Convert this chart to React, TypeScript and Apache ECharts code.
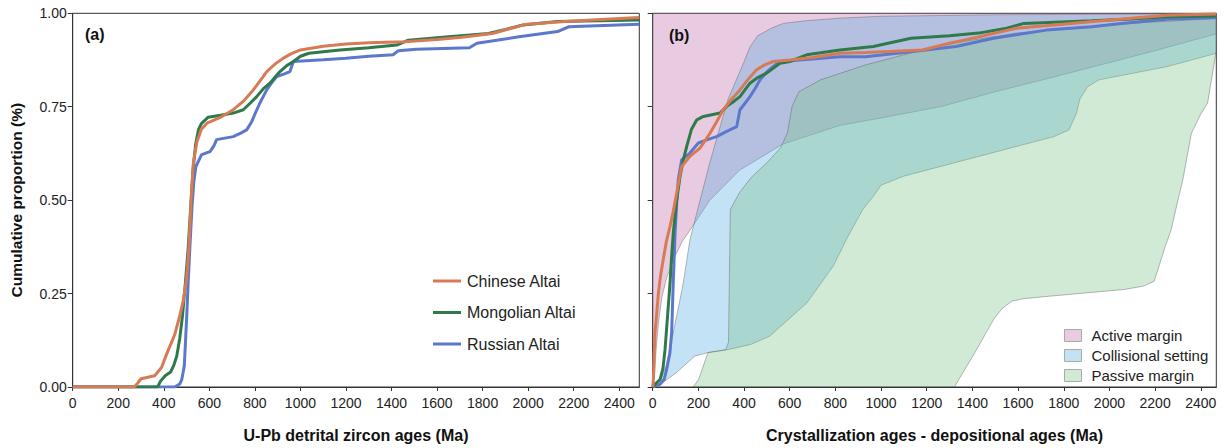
import React, { useEffect, useRef } from "react";
import * as echarts from "echarts";

// ---- shared axis values ----
const xTickValues = [0, 200, 400, 600, 800, 1000, 1200, 1400, 1600, 1800, 2000, 2200, 2400];
const yTickValues = [0, 0.25, 0.5, 0.75, 1];
const leftXMax = 2488;
const rightXMax = 2468;

const regionNames = ["Chinese Altai", "Mongolian Altai", "Russian Altai"];
const regionColors = ["#d77b56", "#2f7a4b", "#5c78cb"];

// ---- (a) cumulative proportion of U-Pb detrital zircon ages ----
const chineseAges: number[][] = [
  [0, 0], [270, 0], [285, 0.01], [300, 0.022], [360, 0.03], [390, 0.052], [415, 0.092],
  [448, 0.14], [470, 0.19], [485, 0.23], [500, 0.29], [510, 0.37], [520, 0.5], [530, 0.6],
  [545, 0.655], [565, 0.69], [590, 0.706], [650, 0.722], [705, 0.742], [750, 0.765],
  [793, 0.795], [830, 0.825], [852, 0.844], [890, 0.865], [925, 0.88], [960, 0.892],
  [1000, 0.902], [1100, 0.912], [1200, 0.918], [1300, 0.921], [1456, 0.924], [1600, 0.93],
  [1709, 0.936], [1843, 0.946], [1927, 0.96], [1995, 0.971], [2163, 0.978], [2300, 0.983],
  [2488, 0.989],
];
const mongolianAges: number[][] = [
  [0, 0], [373, 0], [385, 0.015], [406, 0.03], [430, 0.04], [445, 0.06], [457, 0.083],
  [470, 0.13], [482, 0.19], [495, 0.28], [507, 0.37], [518, 0.48], [528, 0.58], [540, 0.65],
  [553, 0.69], [565, 0.705], [595, 0.722], [650, 0.727], [705, 0.733], [749, 0.742],
  [780, 0.76], [808, 0.777], [840, 0.8], [866, 0.813], [890, 0.83], [910, 0.844], [940, 0.86],
  [969, 0.871], [1000, 0.885], [1037, 0.893], [1174, 0.902], [1300, 0.908], [1423, 0.915],
  [1474, 0.928], [1650, 0.937], [1826, 0.946], [1900, 0.957], [1977, 0.969], [2129, 0.978],
  [2488, 0.982],
];
const russianAges: number[][] = [
  [0, 0], [448, 0], [470, 0.008], [479, 0.02], [490, 0.056], [500, 0.18], [507, 0.279],
  [515, 0.38], [524, 0.483], [532, 0.55], [541, 0.59], [566, 0.622], [603, 0.63], [620, 0.645],
  [632, 0.662], [705, 0.67], [740, 0.68], [764, 0.688], [786, 0.71], [800, 0.73], [822, 0.76],
  [852, 0.795], [875, 0.815], [896, 0.831], [930, 0.838], [954, 0.844], [969, 0.871],
  [1100, 0.876], [1200, 0.88], [1300, 0.885], [1407, 0.889], [1430, 0.9], [1508, 0.904],
  [1742, 0.908], [1775, 0.92], [1960, 0.937], [2129, 0.951], [2179, 0.964], [2300, 0.967],
  [2488, 0.971],
];

// ---- (b) crystallization age minus depositional age ----
const chineseLag: number[][] = [
  [0, 0], [3, 0.02], [6, 0.08], [10, 0.145], [18, 0.2], [25, 0.252], [35, 0.3], [46, 0.341],
  [60, 0.39], [76, 0.43], [90, 0.47], [105, 0.519], [120, 0.57], [127, 0.59], [163, 0.617],
  [207, 0.639], [230, 0.66], [251, 0.679], [280, 0.71], [309, 0.742], [345, 0.77], [382, 0.795],
  [420, 0.825], [455, 0.849], [490, 0.862], [528, 0.871], [601, 0.875], [700, 0.882],
  [820, 0.893], [933, 0.895], [1180, 0.902], [1300, 0.92], [1427, 0.937], [1592, 0.96],
  [1757, 0.969], [2004, 0.982], [2251, 0.995], [2468, 0.998],
];
const mongolianLag: number[][] = [
  [0, 0], [3, 0.003], [32, 0.02], [45, 0.05], [54, 0.1], [65, 0.19], [76, 0.279], [83, 0.35],
  [90, 0.412], [105, 0.5], [120, 0.564], [135, 0.61], [149, 0.644], [170, 0.69], [193, 0.715],
  [222, 0.724], [295, 0.733], [324, 0.751], [350, 0.762], [382, 0.777], [426, 0.813],
  [460, 0.828], [499, 0.84], [557, 0.866], [601, 0.871], [674, 0.889], [820, 0.902],
  [966, 0.911], [1131, 0.933], [1300, 0.94], [1427, 0.947], [1550, 0.96], [1625, 0.973],
  [1922, 0.98], [2100, 0.985], [2251, 0.991], [2468, 0.993],
];
const russianLag: number[][] = [
  [0, 0], [32, 0.007], [50, 0.02], [61, 0.047], [75, 0.09], [83, 0.145], [90, 0.28],
  [98, 0.412], [105, 0.49], [112, 0.555], [127, 0.608], [163, 0.626], [200, 0.653],
  [240, 0.662], [280, 0.67], [324, 0.684], [368, 0.697], [382, 0.742], [405, 0.76],
  [426, 0.777], [450, 0.8], [470, 0.822], [500, 0.843], [528, 0.858], [557, 0.871],
  [700, 0.878], [820, 0.884], [933, 0.884], [1100, 0.895], [1328, 0.911], [1493, 0.933],
  [1724, 0.955], [1922, 0.964], [2053, 0.973], [2251, 0.984], [2468, 0.989],
];

// ---- tectonic setting fields (closed outlines in data units) ----
const fieldNames = ["Active margin", "Collisional setting", "Passive margin"];
const fieldFills = ["rgba(192,112,172,0.36)", "rgba(86,172,226,0.35)", "rgba(121,195,138,0.35)"];
const fieldSwatches = ["#e8cde1", "#c4e2f5", "#d0ead6"];

const activeMarginField: number[][] = [
  [0, 0], [0, 1], [2468, 1], [2468, 0.945], [2200, 0.9], [1760, 0.83], [1500, 0.79],
  [1260, 0.75], [1000, 0.72], [820, 0.7], [570, 0.65], [380, 0.58], [250, 0.5], [175, 0.43],
  [130, 0.39], [90, 0.34], [60, 0.29], [40, 0.24], [25, 0.17], [15, 0.1], [8, 0.03],
];
const collisionalField: number[][] = [
  [0, 0], [32, 0.012], [60, 0.06], [90, 0.145], [115, 0.22], [134, 0.279], [163, 0.394],
  [178, 0.43], [250, 0.6], [330, 0.77], [400, 0.87], [426, 0.91], [460, 0.94], [520, 0.96],
  [572, 0.973], [669, 0.98], [820, 0.987], [1000, 0.992], [1500, 0.996], [2468, 0.999],
  [2468, 0.893], [2250, 0.857], [1955, 0.822], [1905, 0.804], [1870, 0.77], [1856, 0.733],
  [1823, 0.688], [1757, 0.67], [1427, 0.617], [1098, 0.564], [1000, 0.54], [966, 0.51],
  [920, 0.475], [855, 0.403], [790, 0.323], [675, 0.225], [512, 0.136], [430, 0.114],
  [330, 0.1], [242, 0.092], [185, 0.083], [103, 0.038], [40, 0.01],
];
const passiveMarginField: number[][] = [
  [177, 0], [201, 0.02], [242, 0.092], [320, 0.1], [332, 0.12], [336, 0.3], [340, 0.475],
  [380, 0.52], [430, 0.56], [500, 0.6], [560, 0.64], [590, 0.68], [610, 0.75], [640, 0.79],
  [735, 0.822], [933, 0.862], [1262, 0.915], [1592, 0.947], [2086, 0.973], [2468, 0.986],
  [2468, 0.9], [2430, 0.76], [2400, 0.73], [2359, 0.679], [2320, 0.55], [2300, 0.5],
  [2270, 0.42], [2245, 0.377], [2196, 0.283], [2150, 0.27], [2065, 0.261], [1738, 0.243],
  [1620, 0.236], [1574, 0.23], [1530, 0.21], [1493, 0.181], [1411, 0.092], [1321, 0],
];

const FONT = "'Liberation Sans', Arial, Helvetica, sans-serif";
const AXIS_COLOR = "#333";

function fieldRenderer(outline: number[][], fill: string) {
  return (params: any, api: any) => {
    if (params.dataIndex !== 0) return null;
    const points = outline.map((p) => api.coord(p));
    return {
      type: "polygon",
      shape: { points },
      style: { fill, stroke: "rgba(90,90,90,0.6)", lineWidth: 0.7 },
    };
  };
}

function xAxisFor(gridIndex: number, max: number, name: string) {
  return {
    type: "value",
    gridIndex,
    min: 0,
    max,
    name,
    nameLocation: "middle",
    nameGap: 40,
    nameTextStyle: { fontSize: 16, fontWeight: "bold", color: "#111", fontFamily: FONT },
    axisLine: { show: true, lineStyle: { color: AXIS_COLOR, width: 1 } },
    axisTick: { show: true, customValues: xTickValues, length: 4, lineStyle: { color: AXIS_COLOR } },
    axisLabel: {
      customValues: xTickValues,
      formatter: (v: number) => String(v),
      fontSize: 14,
      color: "#222",
      margin: 9,
      fontFamily: FONT,
    },
    splitLine: { show: false },
  };
}

function yAxisFor(gridIndex: number, showLabels: boolean) {
  return {
    type: "value",
    gridIndex,
    min: 0,
    max: 1,
    interval: 0.25,
    name: showLabels ? "Cumulative proportion (%)" : "",
    nameLocation: "middle",
    nameGap: 48,
    nameTextStyle: { fontSize: 15.5, fontWeight: "bold", color: "#111", fontFamily: FONT },
    axisLine: { show: true, lineStyle: { color: AXIS_COLOR, width: 1 } },
    axisTick: { show: true, length: 5, lineStyle: { color: AXIS_COLOR } },
    axisLabel: {
      show: showLabels,
      customValues: yTickValues,
      formatter: (v: number) => v.toFixed(2),
      fontSize: 14,
      color: "#222",
      margin: 6,
      fontFamily: FONT,
    },
    splitLine: { show: false },
  };
}

function curve(name: string, data: number[][], color: string, axisIndex: number, z: number) {
  return {
    type: "line",
    name,
    data,
    xAxisIndex: axisIndex,
    yAxisIndex: axisIndex,
    symbol: "none",
    lineStyle: { color, width: 3 },
    itemStyle: { color },
    z,
  };
}

export default function App() {
  const ref = useRef<HTMLDivElement>(null);

  useEffect(() => {
    document.body.style.margin = "0";
    if (!ref.current) return;
    const chart = echarts.init(ref.current, undefined, { renderer: "svg" });

    const ageSets = [chineseAges, mongolianAges, russianAges];
    const lagSets = [chineseLag, mongolianLag, russianLag];
    const fields = [activeMarginField, collisionalField, passiveMarginField];
    const drawOrder = [2, 1, 0];

    chart.setOption({
      animation: false,
      textStyle: { fontFamily: FONT },
      grid: [
        { left: 72.7, top: 13.3, width: 566.6, height: 374.4, show: true, borderColor: AXIS_COLOR, borderWidth: 1, backgroundColor: "transparent" },
        { left: 652.7, top: 13.3, width: 563.6, height: 374.4, show: true, borderColor: AXIS_COLOR, borderWidth: 1, backgroundColor: "transparent" },
      ],
      xAxis: [
        xAxisFor(0, leftXMax, "U-Pb detrital zircon ages (Ma)"),
        xAxisFor(1, rightXMax, "Crystallization ages - depositional ages (Ma)"),
      ],
      yAxis: [yAxisFor(0, true), yAxisFor(1, false)],
      title: [
        { text: "(a)", left: 80, top: 21, textStyle: { fontSize: 16, fontWeight: "bold", color: "#111", fontFamily: FONT } },
        { text: "(b)", left: 664, top: 22, textStyle: { fontSize: 16, fontWeight: "bold", color: "#111", fontFamily: FONT } },
      ],
      legend: [
        {
          orient: "vertical",
          left: 428,
          top: 268,
          itemWidth: 28,
          itemHeight: 3,
          itemGap: 15.5,
          textStyle: { fontSize: 16, color: "#222", fontFamily: FONT, padding: [0, 0, 0, 1] },
          data: regionNames.map((n) => ({ name: n, icon: "rect" })),
        },
        {
          orient: "vertical",
          left: 1059,
          top: 323,
          itemWidth: 17,
          itemHeight: 12,
          itemGap: 5,
          textStyle: { fontSize: 15, color: "#222", fontFamily: FONT, padding: [0, 0, 0, 5] },
          data: fieldNames.map((n, i) => ({
            name: n,
            icon: "rect",
            itemStyle: { color: fieldSwatches[i], borderColor: "#aaa", borderWidth: 1 },
          })),
        },
      ],
      series: [
        ...fields.map((outline, i) => ({
          type: "custom",
          name: fieldNames[i],
          xAxisIndex: 1,
          yAxisIndex: 1,
          data: outline,
          renderItem: fieldRenderer(outline, fieldFills[i]),
          itemStyle: { color: fieldSwatches[i] },
          silent: true,
          clip: true,
          z: 1,
        })),
        ...drawOrder.map((i) => curve(regionNames[i], ageSets[i], regionColors[i], 0, 3 + (2 - i))),
        ...drawOrder.map((i) => curve(regionNames[i], lagSets[i], regionColors[i], 1, 3 + (2 - i))),
      ],
    });

    return () => chart.dispose();
  }, []);

  return <div ref={ref} style={{ width: 1224, height: 448 }} />;
}
